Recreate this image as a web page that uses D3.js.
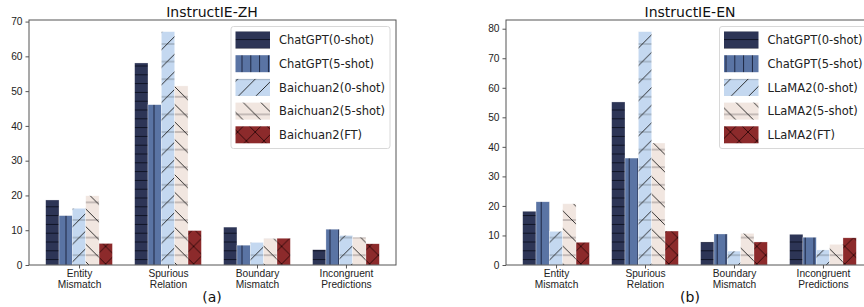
<!DOCTYPE html>
<html>
  <head>
    <meta charset="UTF-8" />
    <title>InstructIE error analysis</title>
    <script src="https://cdnjs.cloudflare.com/ajax/libs/d3/7.8.5/d3.min.js"></script>
    <style>
      body { margin: 0; padding: 0; background: #fff; }
      svg { display: block; font-family: "DejaVu Sans", sans-serif; }
      .tick text { fill: #222; }
    </style>
  </head>
  <body>
    <svg id="chart" width="864" height="307"></svg>
    <script>
      // categories on the x axis (two lines each)
      const categories = [
        ["Entity", "Mismatch"],
        ["Spurious", "Relation"],
        ["Boundary", "Mismatch"],
        ["Incongruent", "Predictions"]
      ];

      // InstructIE-ZH
      const zhSeries = ["ChatGPT(0-shot)", "ChatGPT(5-shot)", "Baichuan2(0-shot)", "Baichuan2(5-shot)", "Baichuan2(FT)"];
      const zhChatGPT0 = [18.7, 58.1, 10.9, 4.4];
      const zhChatGPT5 = [14.2, 46.1, 5.7, 10.3];
      const zhBaichuan0 = [16.3, 67.1, 6.5, 8.5];
      const zhBaichuan5 = [19.9, 51.5, 7.6, 8.0];
      const zhBaichuanFT = [6.2, 9.9, 7.7, 6.1];
      const zhTicks = [0, 10, 20, 30, 40, 50, 60, 70];

      // InstructIE-EN
      const enSeries = ["ChatGPT(0-shot)", "ChatGPT(5-shot)", "LLaMA2(0-shot)", "LLaMA2(5-shot)", "LLaMA2(FT)"];
      const enChatGPT0 = [18.2, 55.2, 7.8, 10.4];
      const enChatGPT5 = [21.4, 36.2, 10.5, 9.4];
      const enLlama0 = [11.4, 79.0, 4.7, 5.1];
      const enLlama5 = [20.7, 41.3, 10.7, 7.0];
      const enLlamaFT = [7.7, 11.5, 7.8, 9.2];
      const enTicks = [0, 10, 20, 30, 40, 50, 60, 70, 80];

      const fills = ["#2d3556", "#5a74a4", "#c4d8f0", "#f1e6e0", "#8c2a2b"];

      const svg = d3.select("#chart");
      const defs = svg.append("defs");

      // hatch patterns, one per series
      function addPattern(id, fill, draw, w, h) {
        const p = defs.append("pattern")
          .attr("id", id)
          .attr("patternUnits", "userSpaceOnUse")
          .attr("width", w).attr("height", h);
        p.append("rect").attr("width", w).attr("height", h).attr("fill", fill);
        draw(p, w, h);
      }
      const line = (p, x1, y1, x2, y2, c, sw) => p.append("line")
        .attr("x1", x1).attr("y1", y1).attr("x2", x2).attr("y2", y2)
        .attr("stroke", c).attr("stroke-width", sw);

      const hs = 8.8;
      addPattern("h0", fills[0], (p, w, h) => line(p, 0, h / 2, w, h / 2, "#0e1224", 1), hs, hs);
      addPattern("h1", fills[1], (p, w, h) => line(p, w / 2, 0, w / 2, h, "#1c2540", 1), hs, hs);
      addPattern("h2", fills[2], (p, w, h) => {
        line(p, 0, h / 2, w, h / 2, "#8a97a6", 1);
        line(p, 0, h, w, 0, "#1a1a1a", 0.9);
        line(p, -w, h, 0, 0, "#1a1a1a", 0.9);
        line(p, w, h, 2 * w, 0, "#1a1a1a", 0.9);
      }, 2 * hs, 2 * hs);
      addPattern("h3", fills[3], (p, w, h) => {
        line(p, 0, h / 2, w, h / 2, "#9a9190", 1);
        line(p, 0, 0, w, h, "#1a1a1a", 0.9);
        line(p, -w, 0, 0, h, "#1a1a1a", 0.9);
        line(p, w, 0, 2 * w, h, "#1a1a1a", 0.9);
      }, 2 * hs, 2 * hs);
      addPattern("h4", fills[4], (p, w, h) => {
        line(p, 0, 0, w, h, "#2a0808", 0.9);
        line(p, 0, h, w, 0, "#2a0808", 0.9);
      }, 2 * hs, 2 * hs);

      function drawPanel(cfg) {
        const g = svg.append("g");
        const x = d3.scaleLinear().domain([-0.5625, 3.5625]).range([cfg.left, cfg.left + 367]);
        const ymax = d3.max(cfg.values.flat()) * 1.05;
        const y = d3.scaleLinear().domain([0, ymax]).range([265, 20]);
        const bw = 0.15;

        // bars
        cfg.values.forEach((vals, si) => {
          g.selectAll(null)
            .data(vals)
            .join("rect")
            .attr("x", (d, i) => x(i + (si - 2) * bw - bw / 2))
            .attr("width", x(bw) - x(0))
            .attr("y", d => y(d))
            .attr("height", d => y(0) - y(d))
            .attr("fill", `url(#h${si})`)
            .attr("stroke", "#ffffff")
            .attr("stroke-opacity", 0.6)
            .attr("stroke-width", 0.5);
        });

        // frame
        g.append("rect")
          .attr("x", x.range()[0]).attr("y", 20)
          .attr("width", 367).attr("height", 245)
          .attr("fill", "none").attr("stroke", "#555").attr("stroke-width", 1);

        // y axis
        const yAxis = g.append("g")
          .attr("transform", `translate(${x.range()[0]},0)`)
          .call(d3.axisLeft(y).tickValues(cfg.ticks).tickSize(3.5).tickPadding(3));
        yAxis.select(".domain").remove();
        yAxis.selectAll("line").attr("stroke", "#555");
        yAxis.selectAll("text").attr("font-size", 10.2).attr("fill", "#222");

        // x axis
        const xAxis = g.append("g")
          .attr("transform", "translate(0,265)")
          .call(d3.axisBottom(x).tickValues([0, 1, 2, 3]).tickSize(3.5).tickFormat(""));
        xAxis.select(".domain").remove();
        xAxis.selectAll("line").attr("stroke", "#555");
        xAxis.selectAll(".tick").each(function (d) {
          const t = d3.select(this).append("text")
            .attr("fill", "#222").attr("font-size", 10.2).attr("text-anchor", "middle");
          categories[d].forEach((s, k) => t.append("tspan").attr("x", 0).attr("y", 12 + k * 11).text(s));
        });

        // titles
        g.append("text")
          .attr("x", cfg.titleX).attr("y", 17)
          .attr("text-anchor", "middle").attr("font-size", 14).attr("fill", "#111")
          .text(cfg.title);
        g.append("text")
          .attr("x", cfg.titleX).attr("y", 302)
          .attr("text-anchor", "middle").attr("font-size", 14).attr("fill", "#111")
          .text(cfg.sub);

        // legend
        const lg = g.append("g");
        lg.append("rect")
          .attr("x", cfg.legX).attr("y", 26.5)
          .attr("width", cfg.legW).attr("height", 122)
          .attr("rx", 2.5)
          .attr("fill", "#fff").attr("fill-opacity", 0.85)
          .attr("stroke", "#d8d8d8").attr("stroke-width", 1);
        cfg.series.forEach((name, i) => {
          const cy = 40 + i * 23.7;
          lg.append("rect")
            .attr("x", cfg.legX + 4.5).attr("y", cy - 8.5)
            .attr("width", 34.5).attr("height", 17)
            .attr("fill", `url(#h${i})`);
          lg.append("text")
            .attr("x", cfg.legX + 48).attr("y", cy + 4.2)
            .attr("font-size", 11.5).attr("fill", "#222")
            .text(name);
        });
      }

      drawPanel({
        left: 29, titleX: 212, title: "InstructIE-ZH", sub: "(a)",
        series: zhSeries, ticks: zhTicks, legX: 231, legW: 159,
        values: [zhChatGPT0, zhChatGPT5, zhBaichuan0, zhBaichuan5, zhBaichuanFT]
      });
      drawPanel({
        left: 506, titleX: 690, title: "InstructIE-EN", sub: "(b)",
        series: enSeries, ticks: enTicks, legX: 719.5, legW: 150,
        values: [enChatGPT0, enChatGPT5, enLlama0, enLlama5, enLlamaFT]
      });
    </script>
  </body>
</html>
